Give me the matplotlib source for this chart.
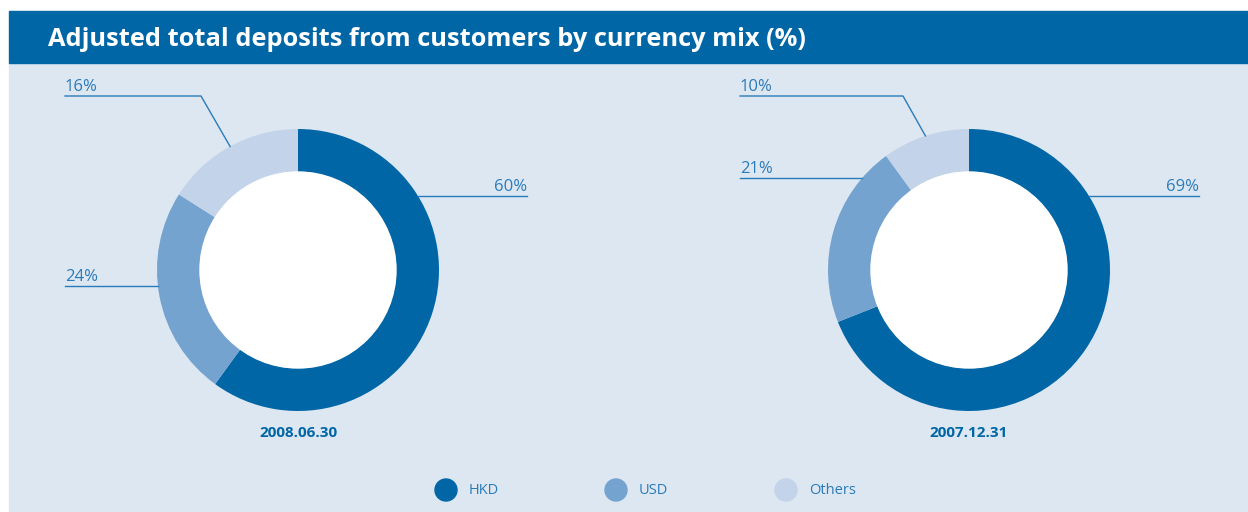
import numpy as np
import matplotlib
matplotlib.use('Agg')
import matplotlib.pyplot as plt
from matplotlib.patches import Rectangle, Circle

# data
currencies = ['HKD', 'USD', 'Others']
dates = ['2008.06.30', '2007.12.31']
mix_2008 = [60, 24, 16]
mix_2007 = [69, 21, 10]

title = 'Adjusted total deposits from customers by currency mix (%)'

# style
W, H = 1248, 512
colors = ['#0066a6', '#74a3cf', '#c3d3e9']
bar_blue = '#0066a6'
bg_blue = '#dde7f2'
label_blue = '#2a7bb9'
plt.rcParams['font.family'] = ['Open Sans', 'DejaVu Sans']

R_OUT, R_IN = 141, 98


def py(y):
    # pixel row (from top) -> data y
    return H - y


fig = plt.figure(figsize=(W / 100, H / 100), dpi=100)
ax = fig.add_axes([0, 0, 1, 1])

ax.add_patch(Rectangle((9, py(512)), W - 9, 512 - 63, color=bg_blue, zorder=0))
ax.add_patch(Rectangle((9, py(63)), W - 9, 63 - 11, color=bar_blue, zorder=0))
ax.text(48, py(40), title, color='white', fontsize=18.3, fontweight='bold',
        va='center', ha='left')


def ring_x(cx, cy, y, side):
    return cx + side * np.sqrt(R_OUT ** 2 - (y - cy) ** 2)


def mid_point(cx, cy, values, idx):
    # clockwise from 12 o'clock
    start = sum(values[:idx]) / sum(values) * 360
    mid = np.deg2rad(start + values[idx] / sum(values) * 180)
    return cx + R_OUT * np.sin(mid), cy - R_OUT * np.cos(mid)


def donut(cx, cy, values, date, label_left, hkd_right, usd_y, elbow_x):
    ax.pie(values, colors=colors, center=(cx, py(cy)), radius=R_OUT,
           startangle=90, counterclock=False,
           wedgeprops=dict(width=R_OUT - R_IN, linewidth=0))
    ax.add_patch(Circle((cx, py(cy)), R_IN, color='white', zorder=3))

    lw = 1.0
    fs = 12
    # HKD, line to the right
    y = 196
    x0 = ring_x(cx, cy, y, 1)
    ax.plot([x0, hkd_right], [py(y), py(y)], color=label_blue, lw=lw)
    ax.text(hkd_right, py(y - 5), f'{values[0]}%', color=label_blue,
            fontsize=fs, ha='right', va='baseline')
    # USD, line to the left
    y = usd_y
    x0 = ring_x(cx, cy, y, -1)
    ax.plot([label_left, x0], [py(y), py(y)], color=label_blue, lw=lw)
    ax.text(label_left, py(y - 5), f'{values[1]}%', color=label_blue,
            fontsize=fs, ha='left', va='baseline')
    # Others, elbow line
    y = 96
    mx, my = mid_point(cx, cy, values, 2)
    ax.plot([label_left, elbow_x, mx], [py(y), py(y), py(my)],
            color=label_blue, lw=lw)
    ax.text(label_left, py(y - 5), f'{values[2]}%', color=label_blue,
            fontsize=fs, ha='left', va='baseline')

    ax.text(cx, py(433), date, color=bar_blue, fontsize=11,
            fontweight='bold', ha='center', va='center')


donut(298, 270, mix_2008, dates[0], 65, 527, 286, 201)
donut(969, 270, mix_2007, dates[1], 740, 1199, 178, 903)

# legend
for i, name in enumerate(currencies):
    lx = 446 + i * 170
    ax.add_patch(Circle((lx, py(490)), 11, color=colors[i], zorder=3))
    ax.text(lx + 23, py(490), name, color=label_blue, fontsize=10.5,
            ha='left', va='center')

ax.set_xlim(0, W)
ax.set_ylim(0, H)
ax.set_aspect('auto')
ax.axis('off')

plt.savefig('out.png', dpi=100, facecolor='white')
plt.close()
